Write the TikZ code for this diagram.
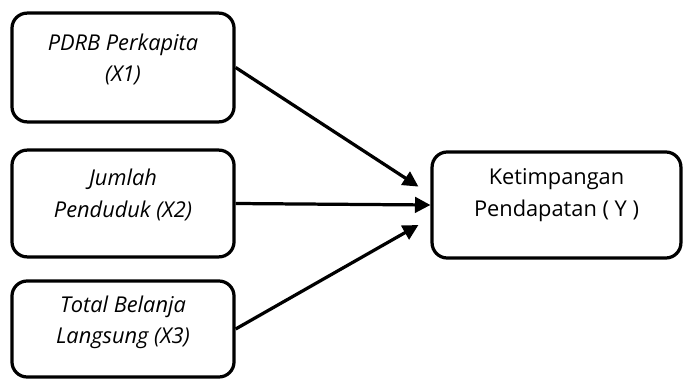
\documentclass[tikz,border=0pt]{standalone}
\usepackage{fontspec}
\setmainfont{Open Sans}
\usetikzlibrary{arrows.meta,positioning}

\begin{document}
\begin{tikzpicture}
[
x=0.025cm, y=-0.025cm,
varbox/.style={draw, line width=2.3pt, rounded corners=0.38cm, minimum width=5.55cm},
vartext/.style={align=center, font=\fontsize{15.5}{22.5}\selectfont\itshape},
depvar/.style={align=center, font=\fontsize{15.5}{22.5}\selectfont},
link/.style={line width=2.3pt, -{Triangle[length=11pt,width=11pt]}},
]
\useasboundingbox (0,0) rectangle (683,381);
\node[varbox, minimum height=2.72cm, label={[vartext, yshift=0.2cm]center:{PDRB Perkapita\\(X1)}}] (x1) at (123,67.5) {};
\node[varbox, minimum height=2.67cm, label={[vartext, yshift=0.22cm]center:{Jumlah\\Penduduk (X2)}}] (x2) at (123,203.5) {};
\node[varbox, minimum height=2.4cm, label={[vartext, yshift=0.17cm]center:{Total Belanja\\Langsung (X3)}}] (x3) at (123,329) {};
\node[varbox, minimum width=6.22cm, minimum height=2.65cm, label={[depvar, yshift=0.24cm]center:{Ketimpangan\\Pendapatan ( Y )}}] (y) at (556.5,205) {};
\coordinate (in1) at ([xshift=-0.3cm, yshift=0.46cm]y.west);
\coordinate (in3) at ([xshift=-0.3cm, yshift=-0.5cm]y.west);
\draw[link] (x1.east) -- (in1);
\draw[link] (x2.east) -- (y.west);
\draw[link] (x3.east) -- (in3);
\end{tikzpicture}
\end{document}
